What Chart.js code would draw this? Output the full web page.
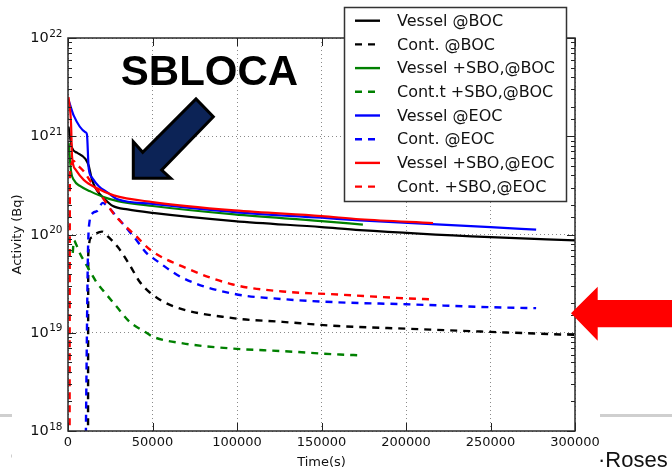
<!DOCTYPE html>
<html><head><meta charset="utf-8">
<script src="https://cdn.jsdelivr.net/npm/chart.js@4/dist/chart.umd.min.js"></script>
<style>html,body{margin:0;padding:0;background:#fff;overflow:hidden}#wrap{width:672px;height:470px;position:relative}</style>
</head><body><div id="wrap"><canvas id="c" width="672" height="470"></canvas></div>
<script>
// ---- data (time in s, activity in Bq) ----
const seriesLabels = ['Vessel @BOC','Cont. @BOC','Vessel +SBO,@BOC','Cont.t +SBO,@BOC','Vessel @EOC','Cont. @EOC','Vessel +SBO,@EOC','Cont. +SBO,@EOC'];

const vesselBocX = [300, 2400, 5300, 10300, 12250, 14200, 17200, 21100, 26600, 35300, 50000, 98500, 150000, 172800, 250000, 300000];
const vesselBocY = [1.25e21, 7.6e20, 6.8e20, 5.9e20, 5.0e20, 3.6e20, 2.8e20, 2.35e20, 1.95e20, 1.8e20, 1.66e20, 1.37e20, 1.19e20, 1.11e20, 9.4e19, 8.7e19];

const contBocX = [11800, 12000, 13800, 16500, 20100, 23700, 29600, 36500, 42400, 48400, 61000, 97600, 127000, 160000, 200000, 250000, 300000];
const contBocY = [1e17, 6.3e19, 9.3e19, 1.02e20, 1.07e20, 9.5e19, 7.4e19, 4.9e19, 3.3e19, 2.57e19, 1.9e19, 1.41e19, 1.29e19, 1.17e19, 1.1e19, 1.02e19, 9.5e18];

const vesselSboBocX = [400, 1800, 3400, 7300, 13200, 21100, 29400, 50000, 98500, 150000, 174500];
const vesselSboBocY = [8.5e20, 4.4e20, 3.6e20, 3.1e20, 2.75e20, 2.4e20, 2.19e20, 1.95e20, 1.6e20, 1.37e20, 1.26e20];

const contSboBocX = [2800, 3500, 5000, 7300, 10300, 13800, 17200, 20700, 28600, 36500, 46400, 50300, 68000, 97600, 127000, 160800, 172600];
const contSboBocY = [6.5e19, 8.7e19, 7.8e19, 6.3e19, 5.1e19, 4.0e19, 3.2e19, 2.7e19, 1.86e19, 1.29e19, 1.0e19, 9.1e18, 7.8e18, 6.9e18, 6.5e18, 6.0e18, 5.9e18];

const vesselEocX = [300, 3400, 10300, 11200, 12250, 14200, 18200, 23100, 29400, 50000, 98500, 150000, 172800, 250000, 277000];
const vesselEocY = [2.35e21, 1.62e21, 1.1e21, 1.05e21, 4.7e20, 3.8e20, 3.1e20, 2.7e20, 2.28e20, 2.05e20, 1.69e20, 1.48e20, 1.39e20, 1.19e20, 1.12e20];

const contEocX = [10400, 11800, 12600, 14800, 17600, 20500, 22500, 29400, 39300, 47100, 50300, 68000, 97600, 127000, 160000, 200000, 250000, 277000];
const contEocY = [5e17, 6.3e19, 1.3e20, 1.66e20, 1.75e20, 2.1e20, 2.0e20, 1.48e20, 9.3e19, 6.3e19, 5.75e19, 3.6e19, 2.5e19, 2.2e19, 2.04e19, 1.95e19, 1.82e19, 1.78e19];

const vesselSboEocX = [300, 1800, 2400, 4400, 9300, 17200, 27000, 50000, 98500, 150000, 172800, 216000];
const vesselSboEocY = [2.5e21, 1.35e21, 6.2e20, 4.6e20, 3.6e20, 2.95e20, 2.5e20, 2.14e20, 1.76e20, 1.54e20, 1.43e20, 1.31e20];

const contSboEocX = [900, 1100, 3400, 4500, 9300, 13200, 18750, 27600, 39300, 49100, 68000, 97500, 127000, 160000, 200000, 215000];
const contSboEocY = [1e17, 4e20, 5.6e20, 5.3e20, 4.4e20, 3.5e20, 2.63e20, 1.58e20, 1.0e20, 6.9e19, 4.7e19, 3.1e19, 2.63e19, 2.45e19, 2.24e19, 2.19e19];

const xTickValues = [0, 50000, 100000, 150000, 200000, 250000, 300000];
const yTickValues = [1e18, 1e19, 1e20, 1e21, 1e22];
const yTickBase = '10';
const yTickExponents = ['18', '19', '20', '21', '22'];

// ---- styles ----
const seriesX = [vesselBocX, contBocX, vesselSboBocX, contSboBocX, vesselEocX, contEocX, vesselSboEocX, contSboEocX];
const seriesY = [vesselBocY, contBocY, vesselSboBocY, contSboBocY, vesselEocY, contEocY, vesselSboEocY, contSboEocY];
const colors = ['#000000','#000000','#008000','#008000','#0000ff','#0000ff','#ff0000','#ff0000'];
const DASH = [7, 6];

const datasets = seriesLabels.map((lab, i) => ({
  label: lab,
  data: seriesX[i].map((x, k) => ({x: x, y: seriesY[i][k]})),
  borderColor: colors[i],
  borderWidth: i % 2 ? 2.4 : 2.2,
  borderDash: i % 2 ? DASH : [],
  pointRadius: 0,
  fill: false,
  cubicInterpolationMode: 'monotone',
  order: 8 - i
}));

function isMajor(v){ const l = Math.log10(v); return Math.abs(l - Math.round(l)) < 1e-6; }

const decor = {
  id: 'decor',
  afterDraw(chart){
    const ctx = chart.ctx, a = chart.chartArea, xs = chart.scales.x, ys = chart.scales.y;
    ctx.save();
    const line = (x1,y1,x2,y2) => { ctx.beginPath(); ctx.moveTo(x1,y1); ctx.lineTo(x2,y2); ctx.stroke(); };
    // inward ticks
    ctx.strokeStyle = '#222'; ctx.lineWidth = 1; ctx.setLineDash([]);
    ys.ticks.forEach(t => {
      const py = Math.round(ys.getPixelForValue(t.value)) + 0.5;
      const L = isMajor(t.value) ? 8 : 4;
      line(a.left, py, a.left + L, py); line(a.right - L, py, a.right, py);
    });
    xs.ticks.forEach(t => {
      const px = Math.round(xs.getPixelForValue(t.value)) + 0.5;
      line(px, a.bottom, px, a.bottom - 8); line(px, a.top, px, a.top + 8);
    });
    // frame
    ctx.strokeStyle = '#2a2a2a'; ctx.lineWidth = 1.5;
    ctx.strokeRect(a.left, a.top, a.right - a.left, a.bottom - a.top);
    // y tick labels with superscript exponents
    ctx.fillStyle = '#111'; ctx.textBaseline = 'alphabetic'; ctx.textAlign = 'left';
    yTickValues.forEach((v, i) => {
      const py = ys.getPixelForValue(v);
      ctx.font = '10.5px "DejaVu Sans"';
      const we = ctx.measureText(yTickExponents[i]).width;
      ctx.font = '14.5px "DejaVu Sans"';
      const wb = ctx.measureText(yTickBase).width;
      const right = a.left - 5.5;
      ctx.fillText(yTickBase, right - we - wb - 0.5, py + 4);
      ctx.font = '10.5px "DejaVu Sans"';
      ctx.fillText(yTickExponents[i], right - we, py - 1.5);
    });
    // axis titles
    ctx.fillStyle = '#111';
    ctx.font = '13px "DejaVu Sans"';
    ctx.textAlign = 'center'; ctx.textBaseline = 'middle';
    ctx.fillText('Time(s)', (a.left + a.right) / 2, 463);
    ctx.save(); ctx.translate(18, (a.top + a.bottom) / 2); ctx.rotate(-Math.PI / 2);
    ctx.fillText('Activity (Bq)', 0, 0); ctx.restore();
    // legend
    const L0 = 344.5, T0 = 7.5, W = 222, H = 194;
    ctx.fillStyle = '#fff'; ctx.fillRect(L0, T0, W, H);
    ctx.strokeStyle = '#333'; ctx.lineWidth = 1.5; ctx.strokeRect(L0, T0, W, H);
    ctx.font = '16px "DejaVu Sans"'; ctx.textAlign = 'left'; ctx.textBaseline = 'middle';
    chart.data.datasets.forEach((d, i) => {
      const cy = 20.7 + i * 23.7;
      ctx.strokeStyle = d.borderColor; ctx.lineWidth = 2.4; ctx.setLineDash(d.borderDash);
      line(355, cy, 380, cy);
      ctx.setLineDash([]);
      ctx.fillStyle = '#111';
      ctx.fillText(d.label, 397, cy + 1);
    });
    // SBLOCA text
    ctx.fillStyle = '#000'; ctx.font = 'bold 42px "Liberation Sans"';
    ctx.textAlign = 'center'; ctx.textBaseline = 'alphabetic';
    ctx.fillText('SBLOCA', 209.5, 85);
    // navy arrow
    ctx.beginPath();
    [[133.3,178.3],[133.3,141.7],[142.7,152.2],[196,99],[213.3,116.7],[161.7,170],[170.7,178.3]].forEach((p,k)=>{ k ? ctx.lineTo(p[0],p[1]) : ctx.moveTo(p[0],p[1]); });
    ctx.closePath();
    ctx.fillStyle = '#0c2356'; ctx.fill();
    ctx.strokeStyle = '#000'; ctx.lineWidth = 3; ctx.lineJoin = 'miter'; ctx.stroke();
    // red arrow
    ctx.beginPath();
    [[571,313.3],[597.7,286.7],[597.7,300],[673,300],[673,327.3],[597.7,327.3],[597.7,340.7]].forEach((p,k)=>{ k ? ctx.lineTo(p[0],p[1]) : ctx.moveTo(p[0],p[1]); });
    ctx.closePath(); ctx.fillStyle = '#ff0000'; ctx.fill();
    // slide decorations
    ctx.strokeStyle = '#cfcfcf'; ctx.lineWidth = 3;
    line(0, 415.5, 12, 415.5); line(600, 415.5, 672, 415.5);
    ctx.lineWidth = 1; line(11.5, 454.5, 11.5, 457.5);
    ctx.fillStyle = '#111'; ctx.font = '22px "Liberation Sans"'; ctx.textAlign = 'left';
    ctx.fillText('\u00B7Roses', 598, 467);
    ctx.restore();
  }
};

new Chart(document.getElementById('c'), {
  type: 'line',
  data: { datasets: datasets },
  options: {
    responsive: false, animation: false, devicePixelRatio: 1, events: [],
    layout: { padding: { left: 0, top: 38, right: 97, bottom: 0 } },
    plugins: { legend: { display: false }, tooltip: { enabled: false }, title: { display: false } },
    scales: {
      x: {
        type: 'linear', min: 0, max: 300000,
        afterFit: s => { s.height = 39; },
        afterBuildTicks: s => { s.ticks = xTickValues.map(v => ({value: v})); },
        ticks: { callback: v => String(v), font: { family: 'DejaVu Sans', size: 13 }, color: '#111', padding: 4, maxRotation: 0, autoSkip: false },
        grid: { color: '#8a8a8a', lineWidth: 1, drawTicks: false },
        border: { display: false, dash: [1, 3] }
      },
      y: {
        type: 'logarithmic', min: 1e18, max: 1e22,
        afterFit: s => { s.width = 68; },
        ticks: { display: false, autoSkip: false },
        grid: { color: c => (c.tick && isMajor(c.tick.value)) ? '#8a8a8a' : 'rgba(0,0,0,0)', lineWidth: 1, drawTicks: false },
        border: { display: false, dash: [1, 3] }
      }
    }
  },
  plugins: [decor]
});
</script></body></html>
